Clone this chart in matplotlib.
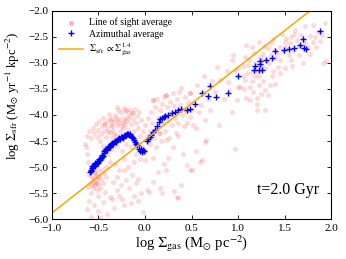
import matplotlib
matplotlib.use("Agg")
import matplotlib.pyplot as plt
import numpy as np

# ---------------------------------------------------------------------------
# Data
# ---------------------------------------------------------------------------

# line-of-sight averages (pink cloud): (log Sigma_gas, log Sigma_sfr)
los_points = [
    # low cloud, above the azimuthal curve
    (-0.62, -4.40), (-0.60, -4.30), (-0.58, -4.45), (-0.56, -4.25), (-0.55, -4.35),
    (-0.53, -4.18), (-0.52, -4.42), (-0.50, -4.28), (-0.49, -4.12), (-0.48, -4.50),
    (-0.47, -4.36), (-0.46, -4.22), (-0.45, -4.05), (-0.44, -4.30), (-0.43, -4.15),
    (-0.42, -4.42), (-0.41, -4.25), (-0.40, -4.10), (-0.39, -3.98), (-0.38, -4.33),
    (-0.37, -4.20), (-0.36, -4.05), (-0.35, -4.45), (-0.34, -4.28), (-0.33, -4.12),
    (-0.32, -4.00), (-0.31, -4.38), (-0.30, -4.20), (-0.29, -3.90), (-0.28, -4.08),
    (-0.27, -4.30), (-0.26, -3.95), (-0.25, -4.15), (-0.24, -4.25), (-0.23, -3.87),
    (-0.22, -4.05), (-0.21, -4.20), (-0.20, -3.93), (-0.19, -4.12), (-0.18, -4.28),
    (-0.17, -4.00), (-0.16, -3.90), (-0.15, -4.18), (-0.14, -3.97), (-0.13, -4.08),
    (-0.12, -4.30), (-0.11, -3.88), (-0.10, -4.15), (-0.09, -4.02), (-0.08, -4.25),
    (-0.06, -3.95), (-0.05, -4.40), (-0.04, -4.10), (-0.02, -4.30),
    (-0.45, -4.60), (-0.40, -4.75), (-0.35, -4.65), (-0.30, -4.60), (-0.25, -4.70),
    (-0.20, -4.55), (-0.15, -4.62), (-0.10, -4.75), (-0.08, -4.55), (-0.05, -4.85),
    (-0.03, -4.62), (0.00, -4.72), (-0.12, -4.90), (-0.22, -4.85), (-0.32, -4.95),
    (-0.28, -5.05), (-0.18, -5.00), (-0.38, -4.90), (-0.42, -5.00),
    (-0.64, -4.55), (-0.62, -4.75), (-0.61, -4.90), (-0.63, -4.62),
    (-0.44, -4.18), (-0.40, -4.32), (-0.37, -4.12), (-0.33, -4.36), (-0.29, -4.14),
    (-0.26, -4.22), (-0.22, -4.12), (-0.18, -4.06), (-0.35, -4.22), (-0.31, -4.06),
    # low cloud, below the azimuthal curve
    (-0.60, -5.15), (-0.59, -5.30), (-0.58, -5.05), (-0.57, -5.20), (-0.56, -5.40),
    (-0.55, -5.10), (-0.55, -5.28), (-0.54, -5.35), (-0.53, -5.18), (-0.52, -5.45),
    (-0.52, -5.25), (-0.51, -5.05), (-0.50, -5.32), (-0.49, -5.15), (-0.48, -5.40),
    (-0.47, -5.22), (-0.46, -5.05), (-0.45, -5.30), (-0.44, -5.12), (-0.43, -5.48),
    (-0.42, -5.20), (-0.58, -5.50), (-0.61, -5.38), (-0.50, -5.55),
    (-0.56, -5.22), (-0.53, -5.30), (-0.51, -5.20), (-0.54, -5.12), (-0.57, -5.34),
    (-0.60, -5.65), (-0.55, -5.72), (-0.50, -5.85), (-0.45, -5.68), (-0.41, -5.90),
    (-0.38, -5.58), (-0.35, -5.62), (-0.33, -5.78), (-0.30, -5.45), (-0.28, -5.55),
    (-0.25, -5.62), (-0.22, -5.72), (-0.34, -5.28), (-0.30, -5.20), (-0.26, -5.35),
    (-0.23, -5.06), (-0.20, -5.25), (-0.17, -5.40), (-0.14, -5.15), (-0.10, -5.30),
    (-0.07, -5.22), (-0.04, -5.50), (-0.02, -5.86), (-0.58, -5.95), (-0.48, -5.97),
    (-0.62, -5.80), (-0.12, -5.55), (-0.15, -5.70), (-0.08, -5.65), (0.02, -5.45),
    # middle cloud along the Kennicutt line
    (0.00, -4.20), (0.02, -4.40), (0.03, -4.05), (0.05, -4.30), (0.06, -3.95),
    (0.08, -4.15), (0.09, -3.71), (0.10, -4.45), (0.11, -3.85), (0.12, -4.25),
    (0.13, -3.70), (0.14, -4.05), (0.15, -4.35), (0.16, -3.90), (0.17, -4.50),
    (0.18, -3.78), (0.19, -4.15), (0.20, -3.65), (0.21, -4.00), (0.22, -4.30),
    (0.23, -3.62), (0.24, -3.85), (0.25, -4.10), (0.26, -4.45), (0.27, -3.75),
    (0.28, -3.95), (0.29, -4.20), (0.30, -3.58), (0.31, -3.82), (0.32, -4.05),
    (0.33, -4.35), (0.34, -3.70), (0.35, -3.92), (0.36, -4.15), (0.37, -3.55),
    (0.38, -3.80), (0.39, -3.49), (0.40, -4.00), (0.41, -3.88), (0.42, -4.22),
    (0.43, -3.65), (0.44, -3.95), (0.45, -4.16), (0.46, -3.75), (0.48, -4.03),
    (0.48, -3.58), (0.50, -3.90), (0.52, -4.20), (0.05, -4.55), (0.12, -4.62),
    (0.23, -4.48), (0.30, -4.61), (0.41, -4.74), (0.16, -4.35), (0.35, -4.40),
    (-0.20, -3.90), (-0.30, -3.84), (-0.13, -3.97), (0.09, -3.71), (0.23, -3.62),
    # sparse points below the middle cloud
    (0.00, -4.87), (0.09, -4.83), (0.25, -4.83), (0.45, -4.96), (0.50, -5.06),
    (0.59, -4.90), (0.61, -4.87), (0.14, -5.09), (0.23, -5.06), (0.09, -5.28),
    (0.16, -5.41), (0.31, -5.46), (0.39, -5.35), (0.35, -5.59), (0.18, -5.50),
    (0.04, -5.47), (0.48, -5.06), (0.645, -4.51), (0.97, -4.66), (0.66, -4.48),
    (0.34, -5.57), (0.55, -4.70), (0.20, -4.95),
    # sparse points between the clouds
    (0.56, -3.42), (0.48, -3.58), (0.63, -3.26), (0.77, -3.07), (0.81, -3.33),
    (0.95, -2.85), (0.60, -3.80), (0.70, -3.90), (0.75, -3.55), (0.85, -3.70),
    (0.90, -3.52), (0.65, -4.10), (0.80, -4.20), (0.55, -4.25), (0.72, -3.35),
    (0.88, -3.15), (0.93, -3.95), (0.68, -3.70), (0.58, -3.95), (0.62, -3.58),
    # upper cloud
    (1.935, -2.24), (1.81, -2.28), (1.90, -2.46), (1.86, -2.40), (1.77, -2.49),
    (1.72, -2.62), (1.61, -2.37), (1.57, -2.50), (1.56, -2.62), (1.50, -2.59),
    (1.45, -2.69), (1.40, -2.75), (1.32, -2.72), (1.27, -2.82), (1.24, -2.88),
    (1.25, -2.94), (1.29, -3.10), (1.08, -2.88), (1.11, -3.04), (1.15, -3.17),
    (1.18, -3.26), (1.08, -3.33), (1.13, -3.46), (1.22, -3.43), (1.29, -3.52),
    (1.34, -3.43), (1.36, -3.26), (1.43, -3.07), (1.50, -3.10), (1.57, -2.94),
    (1.70, -3.01), (1.77, -2.82), (1.84, -2.69), (1.91, -3.01), (0.93, -2.94),
    (0.97, -3.13), (0.89, -3.36), (1.00, -3.46), (1.09, -3.68), (1.20, -3.68),
    (1.20, -3.78), (1.29, -3.90), (0.99, -3.72), (1.15, -2.69), (1.22, -2.59),
    (1.38, -2.54), (1.47, -2.44), (1.68, -2.47), (1.72, -2.30), (1.09, -2.65),
    (1.02, -3.46), (1.13, -3.71), (1.20, -3.90), (1.94, -2.97),
    (1.05, -3.05), (1.12, -2.95), (1.18, -3.00), (1.20, -3.15), (1.25, -3.05),
    (1.30, -2.95), (1.33, -3.00), (1.35, -2.85), (1.38, -3.15), (1.40, -2.90),
    (1.42, -2.82), (1.45, -2.95), (1.48, -2.78), (1.52, -2.70), (1.55, -2.85),
    (1.60, -2.75), (1.63, -2.55), (1.65, -2.68), (1.70, -2.55), (1.75, -2.70),
    (1.80, -2.60), (1.83, -2.50), (1.88, -2.58), (1.10, -3.20), (1.15, -3.35),
    (1.22, -3.25), (1.27, -3.35), (1.05, -3.25), (1.00, -3.10), (1.17, -2.80),
    (1.28, -2.68), (1.35, -2.62), (1.52, -2.52), (1.60, -2.45), (1.66, -2.85),
    (1.58, -3.05), (1.45, -3.20), (1.40, -3.40), (1.32, -3.62), (1.25, -3.60),
    (1.16, -3.55), (1.06, -3.50),
]

# azimuthal averages (blue crosses)
azi_points = [
    (-0.595, -5.10), (-0.585, -5.05), (-0.58, -5.08), (-0.57, -5.02), (-0.565, -4.98),
    (-0.555, -5.00), (-0.55, -4.96), (-0.54, -4.98), (-0.535, -4.93), (-0.525, -4.95),
    (-0.52, -4.90), (-0.51, -4.92), (-0.50, -4.88), (-0.49, -4.85), (-0.48, -4.87),
    (-0.475, -4.82), (-0.465, -4.80), (-0.46, -4.76), (-0.45, -4.78), (-0.44, -4.73),
    (-0.435, -4.70), (-0.425, -4.68), (-0.42, -4.65), (-0.41, -4.67), (-0.40, -4.62),
    (-0.39, -4.60), (-0.38, -4.62), (-0.37, -4.58), (-0.36, -4.56), (-0.35, -4.54),
    (-0.34, -4.55), (-0.33, -4.52), (-0.32, -4.50), (-0.31, -4.52), (-0.30, -4.48),
    (-0.29, -4.47), (-0.28, -4.45), (-0.27, -4.46), (-0.26, -4.43), (-0.25, -4.42),
    (-0.24, -4.44), (-0.23, -4.40), (-0.22, -4.41), (-0.21, -4.38), (-0.20, -4.39),
    (-0.19, -4.37), (-0.18, -4.36), (-0.17, -4.38), (-0.16, -4.37), (-0.15, -4.40),
    (-0.14, -4.42), (-0.13, -4.45), (-0.12, -4.48), (-0.11, -4.52), (-0.10, -4.55),
    (-0.09, -4.58),
    (-0.06, -4.66), (-0.05, -4.70), (-0.04, -4.68), (-0.03, -4.72), (-0.02, -4.67),
    (-0.01, -4.70), (-0.045, -4.65),
    (0.02, -4.50), (0.035, -4.47), (0.05, -4.43), (0.07, -4.38), (0.09, -4.33),
    (0.11, -4.29), (0.13, -4.22), (0.15, -4.13), (0.165, -4.08), (0.18, -4.06),
    (0.20, -4.04), (0.22, -4.02), (0.25, -4.00), (0.29, -3.97), (0.32, -3.94),
    (0.36, -3.90), (0.39, -3.88), (0.45, -3.90), (0.48, -3.89), (0.54, -3.79),
    (0.61, -3.57), (0.70, -3.44), (0.68, -3.63), (0.76, -3.65), (0.89, -3.57),
    (1.00, -3.25),
    (1.17, -3.13), (1.22, -3.13), (1.26, -3.14), (1.18, -3.06), (1.24, -3.02),
    (1.24, -2.97), (1.30, -2.94), (1.36, -2.91), (1.40, -2.78), (1.49, -2.76),
    (1.55, -2.74), (1.60, -2.72), (1.67, -2.65), (1.70, -2.54), (1.71, -2.71),
    (1.73, -2.74), (1.88, -2.38),
]

# Kennicutt-Schmidt relation, slope 1.4
ks_slope = 1.4
ks_offset = -4.48
ks_x = [-1.0, 2.0]

los_x = [p[0] for p in los_points]
los_y = [p[1] for p in los_points]
azi_x = [p[0] for p in azi_points]
azi_y = [p[1] for p in azi_points]

# ---------------------------------------------------------------------------
# Plot
# ---------------------------------------------------------------------------

plt.rcParams["font.family"] = ["Liberation Serif", "DejaVu Serif"]
plt.rcParams["mathtext.fontset"] = "stix"

fig = plt.figure(figsize=(3.46, 2.59), dpi=100)
ax = fig.add_axes([0.150, 0.154, 0.807, 0.804])

ax.scatter(los_x, los_y, s=13, color="red", alpha=0.15, linewidths=0,
           label="Line of sight average")
ax.plot(azi_x, azi_y, "+", color="blue", ms=5, mew=1.0, label="Azimuthal average")
ks_y = [ks_slope * x + ks_offset for x in ks_x]
ax.plot(ks_x, ks_y, color="orange", lw=1.1,
        label=r"$\Sigma_{\rm sfr}\ \propto \Sigma_{\rm gas}^{1.4}$")

ax.set_xlim(-1.0, 2.0)
ax.set_ylim(-6.0, -2.0)
ax.set_xticks(np.arange(-1.0, 2.01, 0.5))
ax.set_yticks(np.arange(-6.0, -1.99, 0.5))
ax.tick_params(direction="in", top=True, right=True, labelsize=8, length=3,
               width=0.6)
ax.tick_params(axis="x", pad=3.5)
ax.tick_params(axis="y", pad=2.5)
for sp in ax.spines.values():
    sp.set_linewidth(0.8)

ax.set_xlabel(r"log $\Sigma_{\rm gas}$ (M$_{\odot}$ pc$^{-2}$)", fontsize=10.5,
              labelpad=0.5)
ax.set_ylabel(r"log $\Sigma_{\rm sfr}$ (M$_{\odot}$ yr$^{-1}$ kpc$^{-2}$)", fontsize=9.2)
ax.yaxis.set_label_coords(-0.108, 0.59)

ax.text(1.54, -5.44, "t=2.0 Gyr", fontsize=11.5, ha="center", va="center")

leg = ax.legend(loc="upper left", frameon=False, fontsize=7, handlelength=2.5,
                borderaxespad=0.3, labelspacing=0.25, handletextpad=0.6)
for h in leg.legend_handles[:1]:
    h.set_alpha(0.3)

fig.savefig("out.png", dpi=100)
